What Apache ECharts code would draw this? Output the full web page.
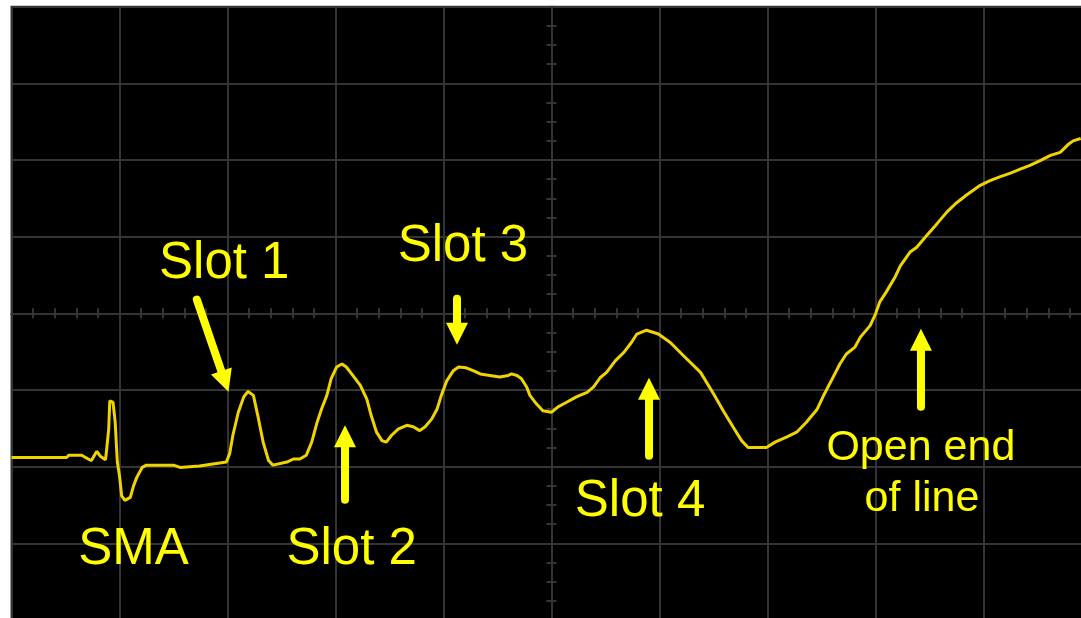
<!DOCTYPE html>
<html>
<head>
<meta charset="utf-8">
<script src="https://cdn.jsdelivr.net/npm/echarts@6/dist/echarts.min.js"></script>
<style>
  html, body { margin: 0; padding: 0; background: #ffffff; }
  #chart { width: 1081px; height: 618px; }
</style>
</head>
<body>
<div id="chart"></div>
<script>
// Horizontal position of each trace sample, in screen divisions from centre
const timeDiv = [
  -5.00, -4.49, -4.47, -4.35, -4.29, -4.26, -4.21, -4.18, -4.13, -4.12,
  -4.10, -4.09, -4.06, -4.04, -4.02, -4.00, -3.98, -3.95, -3.90, -3.87,
  -3.84, -3.79, -3.75, -3.50, -3.44, -3.26, -3.01, -2.98, -2.95, -2.90,
  -2.85, -2.81, -2.76, -2.72, -2.67, -2.62, -2.58, -2.45, -2.39, -2.33,
  -2.27, -2.22, -2.17, -2.13, -2.08, -2.04, -1.99, -1.94, -1.90, -1.84,
  -1.77, -1.71, -1.67, -1.62, -1.57, -1.53, -1.48, -1.42, -1.34, -1.28,
  -1.22, -1.17, -1.11, -1.06, -1.02, -0.97, -0.91, -0.86, -0.79, -0.72,
  -0.66, -0.57, -0.48, -0.40, -0.37, -0.32, -0.28, -0.23, -0.20, -0.14,
  -0.08, 0.00, 0.06, 0.14, 0.23, 0.33, 0.39, 0.45, 0.51, 0.59,
  0.67, 0.74, 0.79, 0.88, 0.99, 1.10, 1.22, 1.38, 1.50, 1.59,
  1.68, 1.76, 1.82, 1.99, 2.07, 2.18, 2.27, 2.36, 2.46, 2.52,
  2.59, 2.67, 2.73, 2.81, 2.86, 2.95, 3.00, 3.04, 3.10, 3.18,
  3.23, 3.32, 3.38, 3.47, 3.57, 3.66, 3.74, 3.84, 3.97, 4.06,
  4.15, 4.25, 4.34, 4.43, 4.52, 4.62, 4.71, 4.79, 4.83, 4.90
];
// Vertical value of each trace sample, in screen divisions from centre
const traceDiv = [
  -1.88, -1.88, -1.85, -1.85, -1.90, -1.92, -1.80, -1.86, -1.91, -1.79,
  -1.51, -1.14, -1.16, -1.42, -1.94, -2.12, -2.38, -2.44, -2.40, -2.25,
  -2.14, -2.01, -1.98, -1.98, -2.01, -1.99, -1.94, -1.83, -1.59, -1.29,
  -1.09, -1.02, -1.07, -1.33, -1.68, -1.92, -1.98, -1.94, -1.90, -1.90,
  -1.85, -1.68, -1.42, -1.25, -1.07, -0.85, -0.70, -0.66, -0.70, -0.81,
  -0.94, -1.12, -1.33, -1.55, -1.66, -1.68, -1.59, -1.51, -1.46, -1.48,
  -1.53, -1.48, -1.38, -1.25, -1.07, -0.88, -0.75, -0.70, -0.71, -0.75,
  -0.79, -0.81, -0.83, -0.81, -0.79, -0.81, -0.85, -0.96, -1.07, -1.18,
  -1.27, -1.29, -1.22, -1.16, -1.09, -1.03, -0.96, -0.84, -0.77, -0.62,
  -0.51, -0.38, -0.27, -0.22, -0.27, -0.38, -0.55, -0.77, -1.05, -1.27,
  -1.48, -1.66, -1.75, -1.75, -1.68, -1.61, -1.55, -1.42, -1.25, -1.07,
  -0.88, -0.66, -0.53, -0.44, -0.31, -0.16, -0.01, 0.15, 0.28, 0.47,
  0.62, 0.80, 0.86, 1.01, 1.17, 1.32, 1.43, 1.54, 1.67, 1.73,
  1.78, 1.83, 1.88, 1.93, 1.99, 2.06, 2.10, 2.21, 2.25, 2.28
];

// Annotation texts and their anchor points (data units)
const labelTexts = ['Slot 1', 'Slot 3', 'SMA', 'Slot 2', 'Slot 4', 'Open end', 'of line'];
const labelX     = [-3.03, -0.82, -3.87, -1.85, 0.82, 3.42, 3.43];
const labelY     = [0.64, 0.86, -3.09, -3.09, -2.46, -1.76, -2.42];
const labelBig   = [true, true, true, true, true, false, false];

// Arrow tails and tips (data units)
const arrowTailX = [-3.296, -1.912, -0.875, 0.903, 3.421];
const arrowTailY = [0.228, -2.485, 0.241, -1.911, -1.272];
const arrowTipX  = [-2.991, -1.912, -0.875, 0.903, 3.421];
const arrowTipY  = [-1.024, -1.461, -0.411, -0.841, -0.202];

const gridGray = '#343434';
const traceColor = '#f0d400';
const annotColor = '#ffff00';
const fontFam = '"Liberation Sans", Arial, Helvetica, sans-serif';

const tracePoints = timeDiv.map((t, i) => [t, traceDiv[i]]);
const labelData = labelTexts.map((t, i) => [labelX[i], labelY[i], i]);
const arrowData = arrowTailX.map((x, i) => [x, arrowTailY[i], arrowTipX[i], arrowTipY[i]]);

const lineStyle = { color: gridGray, width: 2 };

function xAxisDef(pos, idx, withSplit) {
  return {
    type: 'value', min: -5, max: 5, interval: 1, position: pos,
    axisLine: { show: true, onZero: true, onZeroAxisIndex: idx, lineStyle: lineStyle },
    axisTick: { show: true, length: 5, lineStyle: lineStyle },
    minorTick: { show: true, splitNumber: 5, length: 5, lineStyle: lineStyle },
    splitLine: { show: withSplit, lineStyle: lineStyle },
    minorSplitLine: { show: false },
    axisLabel: { show: false }
  };
}
function yAxisDef(pos, idx, withSplit) {
  return {
    type: 'value', min: -4, max: 4, interval: 1, position: pos,
    axisLine: { show: true, onZero: true, onZeroAxisIndex: idx, lineStyle: lineStyle },
    axisTick: { show: true, length: 5, lineStyle: lineStyle },
    minorTick: { show: true, splitNumber: 4, length: 5, lineStyle: lineStyle },
    splitLine: { show: withSplit, lineStyle: lineStyle },
    minorSplitLine: { show: false },
    axisLabel: { show: false }
  };
}

const chart = echarts.init(document.getElementById('chart'), null, { renderer: 'canvas' });

const option = {
  backgroundColor: '#ffffff',
  animation: false,
  grid: {
    left: 11.5, top: 6.7, width: 1080, height: 613.3,
    outerBoundsMode: 'none',
    containLabel: false,
    show: true, backgroundColor: '#000000', borderColor: gridGray, borderWidth: 2
  },
  xAxis: [xAxisDef('bottom', 0, true), xAxisDef('top', 1, false)],
  yAxis: [yAxisDef('left', 0, true), yAxisDef('right', 1, false)],
  series: [
    {
      type: 'line',
      xAxisIndex: 0, yAxisIndex: 0,
      data: tracePoints,
      showSymbol: false,
      smooth: false,
      lineStyle: { color: traceColor, width: 3 },
      z: 3
    },
    {
      type: 'custom',
      xAxisIndex: 0, yAxisIndex: 0,
      data: arrowData,
      encode: { x: [0, 2], y: [1, 3] },
      z: 5,
      silent: true,
      renderItem: function (params, api) {
        const p0 = api.coord([api.value(0), api.value(1)]);
        const p1 = api.coord([api.value(2), api.value(3)]);
        const dx = p1[0] - p0[0], dy = p1[1] - p0[1];
        const len = Math.sqrt(dx * dx + dy * dy);
        const ux = dx / len, uy = dy / len;
        const nx = -uy, ny = ux;
        const headLen = 22, headHalf = 11, shaft = 8;
        const bx = p1[0] - ux * headLen, by = p1[1] - uy * headLen;
        return {
          type: 'group',
          children: [
            {
              type: 'line',
              shape: { x1: p0[0] + ux * shaft / 2, y1: p0[1] + uy * shaft / 2, x2: bx + ux * 2, y2: by + uy * 2 },
              style: { stroke: annotColor, lineWidth: shaft, lineCap: 'round' }
            },
            {
              type: 'polygon',
              shape: { points: [[p1[0], p1[1]], [bx + nx * headHalf, by + ny * headHalf], [bx - nx * headHalf, by - ny * headHalf]] },
              style: { fill: annotColor }
            }
          ]
        };
      }
    },
    {
      type: 'custom',
      xAxisIndex: 0, yAxisIndex: 0,
      data: labelData,
      encode: { x: 0, y: 1 },
      z: 6,
      silent: true,
      renderItem: function (params, api) {
        const p = api.coord([api.value(0), api.value(1)]);
        const i = api.value(2);
        return {
          type: 'text',
          x: p[0], y: p[1],
          style: {
            text: labelTexts[i],
            fill: annotColor,
            fontSize: labelBig[i] ? 51 : 43,
            fontFamily: fontFam,
            align: 'center',
            verticalAlign: 'middle'
          }
        };
      }
    }
  ]
};
chart.setOption(option);
</script>
</body>
</html>
